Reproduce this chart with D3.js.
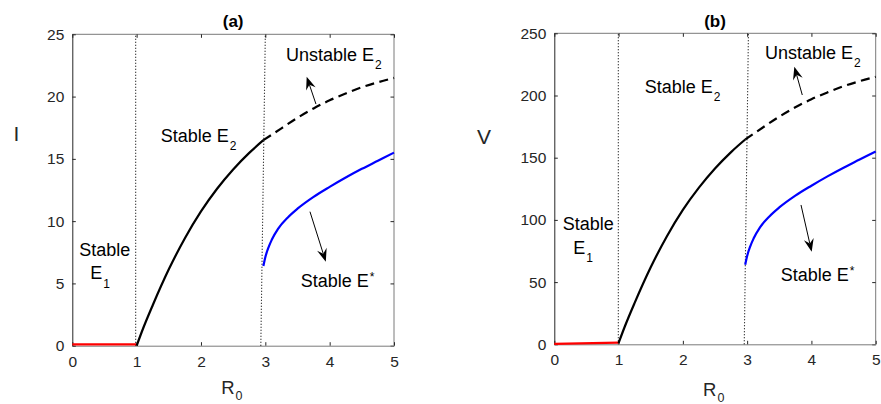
<!DOCTYPE html>
<html>
<head>
<meta charset="utf-8">
<script src="https://cdn.jsdelivr.net/npm/d3@7"></script>
<style>
  body { margin: 0; background: #fff; }
  svg { display: block; font-family: "Liberation Sans", Arial, Helvetica, sans-serif; }
</style>
</head>
<body>
<script>
// ---- data ----
var r0Ticks = [0, 1, 2, 3, 4, 5]
var iTicks = [0, 5, 10, 15, 20, 25]
var vTicks = [0, 50, 100, 150, 200, 250]

// panel (a): I versus R0
var e1R = [0, 1]
var e1I = [0.1, 0.1]
var e2StableR = [1, 1.1, 1.25, 1.5, 1.75, 2, 2.25, 2.5, 2.75, 2.97]
var e2StableI = [0, 1.38, 3.25, 6.13, 8.63, 10.78, 12.6, 14.15, 15.48, 16.5]
var e2UnstableR = [2.97, 3.25, 3.5, 3.75, 4, 4.25, 4.5, 4.75, 5]
var e2UnstableI = [16.5, 17.45, 18.3, 19.05, 19.7, 20.25, 20.75, 21.15, 21.5]
var eStarR = [2.97, 3.0, 3.05, 3.1, 3.2, 3.35, 3.5, 3.75, 4, 4.25, 4.5, 4.75, 5]
var eStarI = [6.4, 7.1, 7.9, 8.5, 9.4, 10.3, 11.0, 11.95, 12.75, 13.5, 14.2, 14.85, 15.5]

// panel (b): V versus R0
var e1V = [0.3, 1.3]
var e2StableV = [1, 14.7, 33.3, 61.9, 86.7, 108, 125.9, 141.3, 154.5, 164.6]
var e2UnstableV = [164.6, 174.5, 183, 190.5, 197, 202.5, 207.5, 211.5, 215]
var eStarV = [64, 71, 79, 85, 94, 103, 110, 119.5, 127.5, 135, 142, 148.5, 155]

// dotted thresholds [r0 at bottom, r0 at top]
var thresholdsA = [[0.985, 0.985], [2.93, 3.0]]
var thresholdsB = [[0.996, 0.996], [2.955, 3.02]]

// arrows [tailR0, tailY, tipR0, tipY]
var arrowsA = [[3.787, 19.4, 3.643, 21.6], [3.694, 10.76, 3.94, 6.74]]
var arrowsB = [[3.858, 200.4, 3.734, 223.2], [3.838, 112, 4.004, 74.4]]

// region labels [text, subscript, superscript, r0, y]
var labelsA = [
  ['Unstable E', '2', '', 3.32, 22.88],
  ['Stable E', '2', '', 1.374, 16.38],
  ['Stable', '', '', 0.109, 7.2],
  ['E', '1', '', 0.28, 5.33],
  ['Stable E', '', '*', 3.55, 4.69]
]
var labelsB = [
  ['Unstable E', '2', '', 3.277, 229.7],
  ['Stable E', '2', '', 1.406, 202.3],
  ['Stable', '', '', 0.131, 91.9],
  ['E', '1', '', 0.296, 72.6],
  ['Stable E', '', '*', 3.522, 51.1]
]

var w = 881
var h = 404
var axisColor = '#262626'

var svg = d3.select('body')
  .append('svg')
  .attr('width', w)
  .attr('height', h)

function zip (a, b) {
  return a.map(function (d, i) { return [d, b[i]] })
}

function drawArrow (g, x, y, a) {
  var x0 = x(a[0]); var y0 = y(a[1]); var x1 = x(a[2]); var y1 = y(a[3])
  var ang = Math.atan2(y1 - y0, x1 - x0)
  var hl = 13; var hw = 5; var notch = 8.5
  var c = Math.cos(ang); var s = Math.sin(ang)
  g.append('line')
    .attr('x1', x0).attr('y1', y0)
    .attr('x2', x1 - c * notch).attr('y2', y1 - s * notch)
    .attr('stroke', '#000').attr('stroke-width', 1)
  var pts = [
    [x1, y1],
    [x1 - c * hl - s * hw, y1 - s * hl + c * hw],
    [x1 - c * notch, y1 - s * notch],
    [x1 - c * hl + s * hw, y1 - s * hl - c * hw]
  ]
  g.append('path')
    .attr('d', 'M' + pts.join('L') + 'Z')
    .attr('fill', '#000')
}

function drawLabel (g, x, y, l) {
  var t = g.append('text')
    .attr('x', x(l[3]))
    .attr('y', y(l[4]))
    .attr('font-size', '18px')
    .attr('fill', '#000')
  t.append('tspan').text(l[0])
  if (l[1]) {
    t.append('tspan').text(l[1]).attr('font-size', '12px').attr('dx', 1).attr('dy', 8.5)
  }
  if (l[2]) {
    t.append('tspan').text(l[2]).attr('font-size', '12px').attr('dx', 1).attr('dy', -6)
  }
}

function drawPanel (p) {
  var g = svg.append('g')
  var x = d3.scaleLinear().domain([0, 5]).range([p.left, p.right])
  var y = d3.scaleLinear().domain([0, p.yMax]).range([p.bottom, p.top])

  // box (top + right)
  g.append('path')
    .attr('d', 'M' + p.left + ',' + p.top + 'H' + p.right + 'V' + p.bottom)
    .attr('fill', 'none').attr('stroke', '#7a7a7a').attr('stroke-width', 1)

  // mirrored ticks
  g.append('g')
    .attr('transform', 'translate(0,' + p.top + ')')
    .call(d3.axisTop(x).tickValues(r0Ticks).tickSizeInner(-3.5).tickSizeOuter(0).tickFormat(''))
    .call(function (a) { a.select('.domain').remove() })
  g.append('g')
    .attr('transform', 'translate(' + p.right + ',0)')
    .call(d3.axisRight(y).tickValues(p.yTicks).tickSizeInner(-3.5).tickSizeOuter(0).tickFormat(''))
    .call(function (a) { a.select('.domain').remove() })

  var xa = g.append('g')
    .attr('transform', 'translate(0,' + p.bottom + ')')
    .call(d3.axisBottom(x).tickValues(r0Ticks).tickFormat(d3.format('d'))
      .tickSizeInner(-3.5).tickSizeOuter(0).tickPadding(10))
  xa.select('.domain').attr('stroke', '#7a7a7a')
  var ya = g.append('g')
    .attr('transform', 'translate(' + p.left + ',0)')
    .call(d3.axisLeft(y).tickValues(p.yTicks).tickFormat(d3.format('d'))
      .tickSizeInner(-3.5).tickSizeOuter(0).tickPadding(8))
  ya.select('.domain').attr('stroke', axisColor)

  g.selectAll('.tick line').attr('stroke', axisColor)
  g.selectAll('.tick text')
    .attr('font-size', '15.5px')
    .attr('font-family', '"Liberation Sans", Arial, Helvetica, sans-serif')
    .attr('fill', axisColor)

  // dotted threshold lines
  p.thresholds.forEach(function (t) {
    g.append('line')
      .attr('x1', x(t[0])).attr('y1', y(0))
      .attr('x2', x(t[1])).attr('y2', y(p.yMax))
      .attr('stroke', '#000').attr('stroke-width', 1.1)
      .attr('stroke-dasharray', '1,2')
  })

  var line = d3.line()
    .x(function (d) { return x(d[0]) })
    .y(function (d) { return y(d[1]) })
    .curve(d3.curveMonotoneX)

  g.append('path').datum(zip(e1R, p.e1))
    .attr('d', line).attr('fill', 'none').attr('stroke', '#ff0000').attr('stroke-width', 2.2)
  g.append('path').datum(zip(e2StableR, p.e2s))
    .attr('d', line).attr('fill', 'none').attr('stroke', '#000').attr('stroke-width', 2.2)
  g.append('path').datum(zip(e2UnstableR, p.e2u))
    .attr('d', line).attr('fill', 'none').attr('stroke', '#000').attr('stroke-width', 2.2)
    .attr('stroke-dasharray', '9,5.5')
  g.append('path').datum(zip(eStarR, p.es))
    .attr('d', line).attr('fill', 'none').attr('stroke', '#0000ff').attr('stroke-width', 2.2)

  p.arrows.forEach(function (a) { drawArrow(g, x, y, a) })
  p.labels.forEach(function (l) { drawLabel(g, x, y, l) })

  // title
  g.append('text')
    .attr('x', (p.left + p.right) / 2).attr('y', 26.5)
    .attr('text-anchor', 'middle')
    .attr('font-size', '17px').attr('font-weight', 'bold')
    .attr('fill', '#000')
    .text(p.title)

  // y label (horizontal)
  g.append('text')
    .attr('x', p.yLabelX).attr('y', p.yLabelY)
    .attr('text-anchor', 'middle')
    .attr('font-size', '21px')
    .attr('fill', axisColor)
    .text(p.yLabel)

  // x label R0
  var xl = g.append('text')
    .attr('x', (p.left + p.right) / 2 - 12).attr('y', p.xLabelY)
    .attr('font-size', '18.5px')
    .attr('fill', axisColor)
  xl.append('tspan').text('R')
  xl.append('tspan').text('0').attr('font-size', '12.5px').attr('dx', 1).attr('dy', 6)
}

drawPanel({
  left: 72.3, right: 394, top: 34.3, bottom: 345.7,
  yMax: 25, yTicks: iTicks,
  e1: e1I, e2s: e2StableI, e2u: e2UnstableI, es: eStarI,
  thresholds: thresholdsA, arrows: arrowsA, labels: labelsA,
  title: '(a)', yLabel: 'I', yLabelX: 16.5, yLabelY: 140.5, xLabelY: 393.5
})

drawPanel({
  left: 554.3, right: 875.7, top: 33.3, bottom: 344.3,
  yMax: 250, yTicks: vTicks,
  e1: e1V, e2s: e2StableV, e2u: e2UnstableV, es: eStarV,
  thresholds: thresholdsB, arrows: arrowsB, labels: labelsB,
  title: '(b)', yLabel: 'V', yLabelX: 484, yLabelY: 144, xLabelY: 396
})
</script>
</body>
</html>
